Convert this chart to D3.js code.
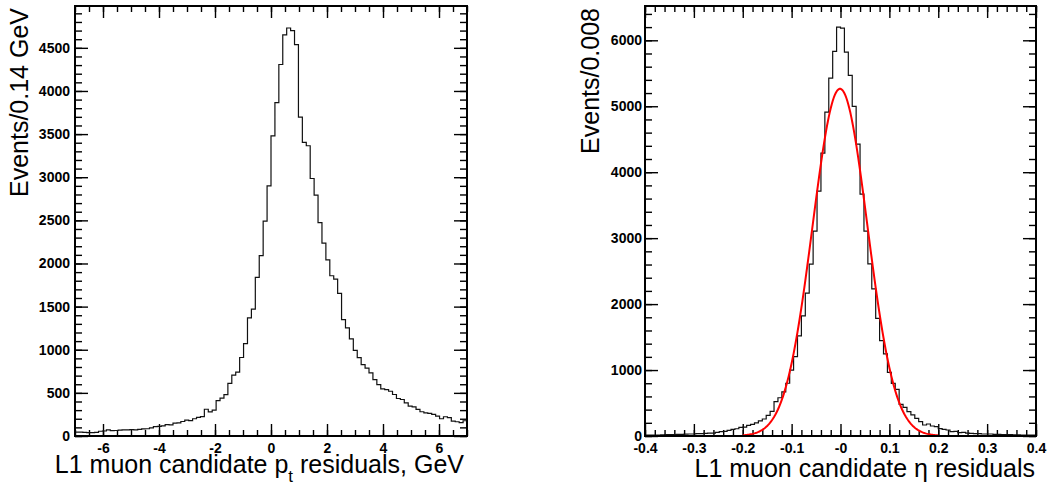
<!DOCTYPE html>
<html>
<head>
<meta charset="utf-8">
<script src="https://cdnjs.cloudflare.com/ajax/libs/d3/7.8.5/d3.min.js"></script>
<style>
  body { margin: 0; background: #fff; }
  svg { display: block; font-family: "Liberation Sans", Arial, Helvetica, sans-serif; }
  .tick text { font-weight: bold; font-size: 14px; fill: #000; }
</style>
</head>
<body>
<svg width="1047" height="487"></svg>
<script>
// pt residuals, 100 bins of 0.14 GeV from -7 to 7
const ptCounts = [
  45, 45, 42, 40, 38, 42, 55, 58, 72, 62,
  64, 67, 70, 72, 74, 70, 76, 82, 84, 95,
  108, 112, 118, 132, 128, 150, 152, 168, 185, 178,
  200, 215, 225, 310, 280, 300, 410, 440, 480, 610,
  705, 740, 910, 1070, 1370, 1470, 1840, 2090, 2490, 2900,
  3480, 3865, 4307, 4650, 4730, 4700, 4538, 3696, 3404, 3365,
  2985, 2792, 2473, 2235, 2042, 1858, 1819, 1654, 1350, 1254,
  1127, 992, 908, 827, 788, 731, 654, 596, 546, 538,
  519, 481, 435, 423, 385, 346, 338, 308, 281, 269,
  262, 250, 231, 200, 223, 212, 173, 165, 154, 177
];
const ptRange = [-7, 7];
const ptTicks = [-6, -4, -2, 0, 2, 4, 6];
const ptYTicks = [0, 500, 1000, 1500, 2000, 2500, 3000, 3500, 4000, 4500];

// eta residuals, 100 bins of 0.008 from -0.4 to 0.4
const etaCounts = [
  12, 12, 15, 15, 18, 20, 20, 22, 25, 25,
  28, 30, 30, 35, 35, 40, 45, 45, 55, 65,
  70, 85, 100, 110, 130, 135, 160, 177, 200, 228,
  258, 313, 374, 520, 580, 670, 800, 1000, 1204, 1517,
  1821, 2165, 2605, 3106, 3713, 4289, 4911, 5427, 5832, 6201,
  6186, 5822, 5468, 4997, 4426, 3667, 3106, 2610, 2231, 1785,
  1447, 1244, 966, 799, 708, 481, 435, 369, 319, 268,
  217, 167, 182, 152, 142, 111, 101, 91, 66, 71,
  51, 56, 45, 40, 35, 35, 30, 30, 30, 25,
  25, 22, 20, 20, 18, 18, 15, 15, 12, 12
];
const etaRange = [-0.4, 0.4];
const etaTicks = [-0.4, -0.3, -0.2, -0.1, 0, 0.1, 0.2, 0.3, 0.4];
const etaTickLabels = ["-0.4", "-0.3", "-0.2", "-0.1", "-0", "0.1", "0.2", "0.3", "0.4"];
const etaYTicks = [0, 1000, 2000, 3000, 4000, 5000, 6000];

// gaussian fit drawn in red
const fitAmp = 5265, fitMean = -0.001, fitSigma = 0.056, fitRange = [-0.2, 0.2];

const svg = d3.select('svg');

function panel(o) {
  const x = d3.scaleLinear().domain(o.xRange).range([o.left, o.right]);
  const y = d3.scaleLinear().domain([0, o.yMax]).range([o.bottom, o.top]);
  const g = svg.append('g');

  const nb = o.counts.length;
  const bw = (o.xRange[1] - o.xRange[0]) / nb;
  const pts = o.counts.map((c, i) => [o.xRange[0] + i * bw, c]);
  pts.push([o.xRange[1], o.counts[nb - 1]]);

  const xMinor = d3.range(o.xRange[0], o.xRange[1] + o.xMinorStep / 2, o.xMinorStep);
  const yMinor = d3.range(0, o.yMax, o.yMinorStep);

  const axes = [
    [d3.axisBottom(x).tickValues(xMinor).tickSizeInner(-6).tickFormat(''), `translate(0,${o.bottom})`],
    [d3.axisTop(x).tickValues(xMinor).tickSizeInner(-6).tickFormat(''), `translate(0,${o.top})`],
    [d3.axisTop(x).tickValues(o.xTicks).tickSizeInner(-12).tickFormat(''), `translate(0,${o.top})`],
    [d3.axisLeft(y).tickValues(yMinor).tickSizeInner(-7).tickFormat(''), `translate(${o.left},0)`],
    [d3.axisRight(y).tickValues(yMinor).tickSizeInner(-7).tickFormat(''), `translate(${o.right},0)`],
    [d3.axisRight(y).tickValues(o.yTicks).tickSizeInner(-13).tickFormat(''), `translate(${o.right},0)`],
    [d3.axisBottom(x).tickValues(o.xTicks).tickSizeInner(-12).tickPadding(7)
      .tickFormat((d, i) => o.xLabels ? o.xLabels[i] : d), `translate(0,${o.bottom})`],
    [d3.axisLeft(y).tickValues(o.yTicks).tickSizeInner(-13).tickPadding(o.yPad)
      .tickFormat(d => d), `translate(${o.left},0)`]
  ];
  axes.forEach(([ax, tr]) => {
    const a = g.append('g').attr('transform', tr).call(ax.tickSizeOuter(0));
    a.select('.domain').remove();
    a.selectAll('line').attr('stroke', '#000').attr('stroke-width', 1.4);
  });

  g.append('path')
    .attr('d', d3.line().x(d => x(d[0])).y(d => y(d[1])).curve(d3.curveStepAfter)(pts))
    .attr('fill', 'none').attr('stroke', '#111').attr('stroke-width', 1.2);

  if (o.fit) {
    const xs = d3.range(o.fit.range[0], o.fit.range[1] + 1e-9, 0.002);
    g.append('path')
      .attr('d', d3.line().x(d => x(d)).y(d => y(o.fit.f(d))).curve(d3.curveLinear)(xs))
      .attr('fill', 'none').attr('stroke', '#ff0000').attr('stroke-width', 2);
  }

  g.append('rect')
    .attr('x', o.left).attr('y', o.top)
    .attr('width', o.right - o.left).attr('height', o.bottom - o.top)
    .attr('fill', 'none').attr('stroke', '#000').attr('stroke-width', 2);

  return g;
}

const gl = panel({
  left: 75, right: 467, top: 6, bottom: 436,
  counts: ptCounts, xRange: ptRange, xTicks: ptTicks, xMinorStep: 0.5,
  yMax: 4985, yTicks: ptYTicks, yMinorStep: 100, yPad: 5
});

const gr = panel({
  left: 645, right: 1036, top: 6, bottom: 436,
  counts: etaCounts, xRange: etaRange, xTicks: etaTicks, xLabels: etaTickLabels, xMinorStep: 0.02,
  yMax: 6520, yTicks: etaYTicks, yMinorStep: 200, yPad: 3,
  fit: { range: fitRange, f: v => fitAmp * Math.exp(-0.5 * Math.pow((v - fitMean) / fitSigma, 2)) }
});

// axis titles
const xt = svg.append('text')
  .attr('x', 464).attr('y', 473)
  .attr('text-anchor', 'end')
  .attr('font-size', 25);
xt.append('tspan').text('L1 muon candidate p');
xt.append('tspan').attr('dy', 9).attr('font-size', 17).text('t');
xt.append('tspan').attr('dy', -9).text(' residuals, GeV');

svg.append('text')
  .attr('x', 1035).attr('y', 477)
  .attr('text-anchor', 'end')
  .attr('font-size', 25)
  .text('L1 muon candidate η residuals');

svg.append('text')
  .attr('transform', 'translate(28,8) rotate(-90)')
  .attr('text-anchor', 'end')
  .attr('font-size', 25)
  .text('Events/0.14 GeV');

svg.append('text')
  .attr('transform', 'translate(599,8) rotate(-90)')
  .attr('text-anchor', 'end')
  .attr('font-size', 25)
  .text('Events/0.008');
</script>
</body>
</html>
